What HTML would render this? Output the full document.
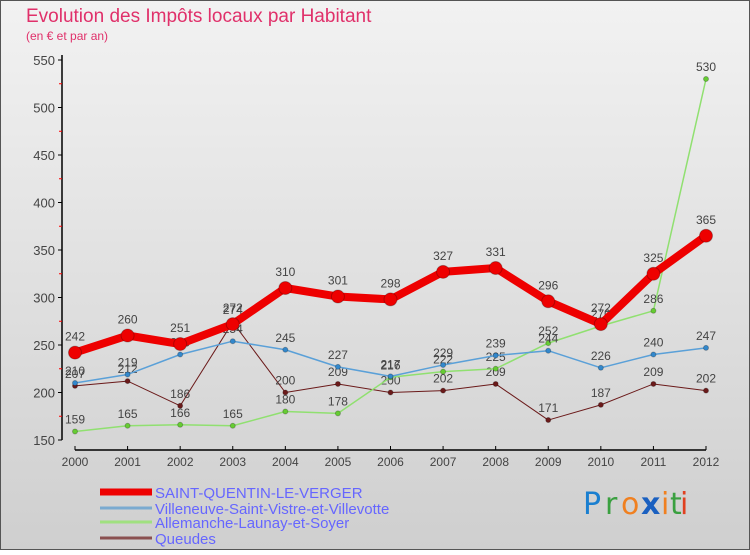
<!DOCTYPE html>
<html><head><meta charset="utf-8"><style>
body{margin:0;width:750px;height:550px;overflow:hidden;font-family:"Liberation Sans",sans-serif}
</style></head><body>
<svg width="750" height="550" xmlns="http://www.w3.org/2000/svg">
<defs><linearGradient id="bg" x1="0" y1="0" x2="0" y2="1"><stop offset="0" stop-color="#f2f2f2"/><stop offset="1" stop-color="#cfcfcf"/></linearGradient></defs>
<rect x="0.5" y="0.5" width="749" height="549" fill="url(#bg)" stroke="#555"/>
<text x="26" y="22" font-size="19" fill="#e0306a">Evolution des Impôts locaux par Habitant</text>
<text x="26" y="40" font-size="12" fill="#e0306a">(en € et par an)</text>
<g id="axes"></g>
<g id="series"></g>
<g id="legend"></g>
<g font-size="30" font-family="DejaVu Sans,sans-serif">
<text x="583" y="514" fill="#1a7fd0">P</text><text x="605" y="514" fill="#3aa040">r</text><text x="621" y="514" fill="#f08020">o</text><text x="641" y="514" fill="#1a60c0" font-weight="bold">x</text><text x="661" y="514" fill="#f08020">i</text><text x="670" y="514" fill="#3aa040">t</text><text x="680" y="514" fill="#e04020">i</text>
</g>
</svg>
<script>
const years=[2000,2001,2002,2003,2004,2005,2006,2007,2008,2009,2010,2011,2012];
const yTicks=[150,200,250,300,350,400,450,500,550];
const saintQuentin=[242,260,251,272,310,301,298,327,331,296,272,325,365];
const villeneuve=[210,219,240,254,245,227,217,229,239,244,226,240,247];
const allemanche=[159,165,166,165,180,178,216,222,225,252,270,286,530];
const queudes=[207,212,186,274,200,209,200,202,209,171,187,209,202];
const NS='http://www.w3.org/2000/svg';
const X=i=>75+i*(706-75)/(years.length-1);
const Y=v=>440-(v-150)*0.95;
function mk(tag,attrs,parent,txt){const e=document.createElementNS(NS,tag);for(const k in attrs)e.setAttribute(k,attrs[k]);if(txt!==undefined)e.textContent=txt;parent.appendChild(e);return e;}
const ax=document.getElementById('axes');
let e=mk('line',{x1:62,y1:Y(550)-5,x2:62,y2:Y(150),stroke:'#000','stroke-width':1.5},ax);

e=mk('line',{x1:X(0),y1:450,x2:X(12),y2:450,stroke:'#000','stroke-width':1.5},ax);

yTicks.forEach((t,i)=>{
 mk('line',{x1:58,x2:62,y1:Y(t),y2:Y(t),stroke:'#000'},ax);
 if(i<yTicks.length-1)mk('line',{x1:59,x2:62,y1:Y(t+25),y2:Y(t+25),stroke:'#f00'},ax);
 e=mk('text',{x:55,y:Y(t)+5,'font-size':13,fill:'#444','text-anchor':'end'},ax,t);
 
});
years.forEach((yr,i)=>{
 mk('line',{x1:X(i),x2:X(i),y1:446,y2:450,stroke:'#000'},ax);
 e=mk('text',{x:X(i),y:466,'font-size':12,fill:'#444','text-anchor':'middle'},ax,yr);
 
});
const sg=document.getElementById('series');
const defs=[
 [queudes,'#6b1a1a','#6b1a1a',1,5,'queudes'],
 [allemanche,'#90e070','#66cc33',1.5,5,'allemanche'],
 [villeneuve,'#5aa0d8','#3388cc',1.5,5,'villeneuve'],
 [saintQuentin,'#ee0000','#ee0000',8,11,'saint-quentin'],
];
defs.forEach(([vals,lc,pc,w,r,nm])=>{
 const g=mk('g',{},sg);
 
 e=mk('polyline',{points:vals.map((v,i)=>X(i)+','+Y(v)).join(' '),fill:'none',stroke:lc,'stroke-width':w,'stroke-linejoin':'round'},g);
 
 vals.forEach((v,i)=>{
  e=mk('circle',{cx:X(i),cy:Y(v),r:r/2+(w>2?1:0),fill:pc,stroke:'rgba(0,0,0,0.25)','stroke-width':1},g);
  
  e=mk('text',{x:X(i),y:Y(v)-(w>2?12:8),'font-size':12,fill:'#444','text-anchor':'middle'},g,v);
  
 });
});
const lg=document.getElementById('legend');
const names=[['SAINT-QUENTIN-LE-VERGER','#ee0000',7,492],['Villeneuve-Saint-Vistre-et-Villevotte','#7aaad0',3,508],['Allemanche-Launay-et-Soyer','#a0e080',3,522],['Queudes','#8a5050',3,538]];
names.forEach(([n,c,w,y])=>{
 const g=mk('g',{},lg);
 
 mk('line',{x1:100,x2:152,y1:y,y2:y,stroke:c,'stroke-width':w},g);
 mk('text',{x:155,y:y+6,'font-size':15,fill:'#6666ff'},g,n);
});
</script>
</body></html>
